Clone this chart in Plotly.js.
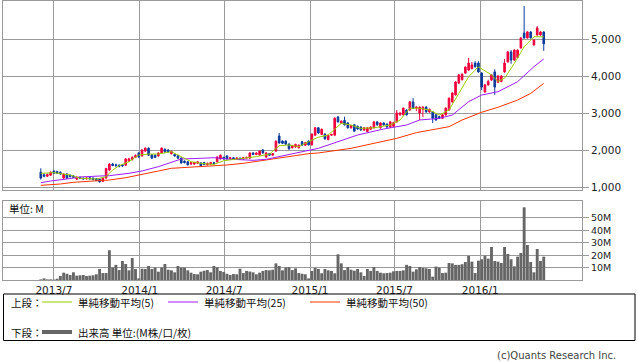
<!DOCTYPE html>
<html><head><meta charset="utf-8">
<script src="https://cdn.plot.ly/plotly-3.0.1.min.js"></script>
<style>html,body{margin:0;padding:0;background:#fff;}#chart{width:638px;height:362px;}</style>
</head><body><div id="chart"></div>
<script>
const weeks = [
'2013-06-03','2013-06-10','2013-06-17','2013-06-24','2013-07-01','2013-07-08','2013-07-15','2013-07-22','2013-07-29','2013-08-05',
'2013-08-12','2013-08-19','2013-08-26','2013-09-02','2013-09-09','2013-09-16','2013-09-23','2013-09-30','2013-10-07','2013-10-14',
'2013-10-21','2013-10-28','2013-11-04','2013-11-11','2013-11-18','2013-11-25','2013-12-02','2013-12-09','2013-12-16','2013-12-23',
'2013-12-30','2014-01-06','2014-01-13','2014-01-20','2014-01-27','2014-02-03','2014-02-10','2014-02-17','2014-02-24','2014-03-03',
'2014-03-10','2014-03-17','2014-03-24','2014-03-31','2014-04-07','2014-04-14','2014-04-21','2014-04-28','2014-05-05','2014-05-12',
'2014-05-19','2014-05-26','2014-06-02','2014-06-09','2014-06-16','2014-06-23','2014-06-30','2014-07-07','2014-07-14','2014-07-21',
'2014-07-28','2014-08-04','2014-08-11','2014-08-18','2014-08-25','2014-09-01','2014-09-08','2014-09-15','2014-09-22','2014-09-29',
'2014-10-06','2014-10-13','2014-10-20','2014-10-27','2014-11-03','2014-11-10','2014-11-17','2014-11-24','2014-12-01','2014-12-08',
'2014-12-15','2014-12-22','2014-12-29','2015-01-05','2015-01-12','2015-01-19','2015-01-26','2015-02-02','2015-02-09','2015-02-16',
'2015-02-23','2015-03-02','2015-03-09','2015-03-16','2015-03-23','2015-03-30','2015-04-06','2015-04-13','2015-04-20','2015-04-27',
'2015-05-04','2015-05-11','2015-05-18','2015-05-25','2015-06-01','2015-06-08','2015-06-15','2015-06-22','2015-06-29','2015-07-06',
'2015-07-13','2015-07-20','2015-07-27','2015-08-03','2015-08-10','2015-08-17','2015-08-24','2015-08-31','2015-09-07','2015-09-14',
'2015-09-21','2015-09-28','2015-10-05','2015-10-12','2015-10-19','2015-10-26','2015-11-02','2015-11-09','2015-11-16','2015-11-23',
'2015-11-30','2015-12-07','2015-12-14','2015-12-21','2015-12-28','2016-01-04','2016-01-11','2016-01-18','2016-01-25','2016-02-01',
'2016-02-08','2016-02-15','2016-02-22','2016-02-29','2016-03-07','2016-03-14','2016-03-21','2016-03-28','2016-04-04','2016-04-11',
'2016-04-18','2016-04-25','2016-05-02','2016-05-09','2016-05-16'];

const open = [1400,1330,1290,1320,1430,1420,1400,1240,1350,1320,1300,1210,1260,1240,1220,1250,1240,1220,1210,1150,
1240,1460,1620,1600,1590,1600,1590,1700,1740,1800,1920,1840,1970,2050,1865,1860,1840,1920,2020,2000,
1900,1880,1850,1780,1700,1680,1620,1620,1640,1650,1660,1600,1620,1660,1680,1760,1800,1840,1760,1790,
1760,1780,1760,1780,1780,1920,1880,1865,2000,1810,1900,1860,1970,2380,2240,2240,2160,2060,2080,2060,
2220,2130,2240,2140,2400,2600,2420,2430,2280,2400,2400,2890,2730,2800,2730,2600,2680,2640,2620,2540,
2500,2560,2600,2760,2600,2730,2700,2620,2640,2760,2950,2950,3080,3080,3300,3130,3000,3100,3160,3030,
3030,2950,2900,2860,2950,3080,3300,3490,3810,3900,4080,4160,4200,4350,4350,4080,3570,3760,3890,4110,
3830,3850,4110,4380,4650,4430,4500,4760,5160,5030,5190,4840,5110,5110,5190];
const high = [1505,1370,1360,1420,1450,1440,1420,1370,1370,1340,1320,1290,1290,1260,1260,1270,1260,1240,1230,1260,
1520,1640,1650,1630,1610,1620,1780,1790,1830,1880,1950,2020,2070,2070,1890,1880,1940,2070,2040,2020,
1980,1900,1870,1800,1720,1700,1680,1680,1700,1670,1680,1660,1680,1680,1830,1880,1820,1860,1810,1810,
1800,1800,1810,1820,1940,1940,1940,1990,2020,1940,1920,1920,2260,2460,2260,2260,2180,2140,2170,2150,
2240,2220,2260,2450,2620,2620,2580,2450,2420,2440,2880,2920,2800,2900,2750,2680,2700,2660,2640,2620,
2620,2640,2780,2780,2750,2750,2720,2780,2760,3080,3020,3150,3100,3320,3400,3180,3180,3180,3180,3120,
3050,2970,2920,2970,3150,3420,3560,3860,4050,4070,4260,4490,4380,4400,4400,4100,3780,3900,4050,4180,
4020,4020,4460,4670,4700,4720,4720,5050,5890,5210,5210,4990,5350,5210,5210];
const low = [1200,1260,1270,1300,1350,1350,1330,1220,1220,1260,1240,1190,1210,1200,1200,1200,1180,1160,1120,1140,
1230,1440,1560,1540,1530,1550,1570,1680,1720,1780,1790,1820,1950,1840,1760,1780,1820,1900,1930,1930,
1880,1820,1760,1630,1640,1580,1600,1600,1620,1550,1590,1580,1600,1610,1660,1740,1740,1740,1740,1740,
1740,1730,1740,1760,1760,1860,1860,1850,1900,1790,1840,1840,1950,2170,2160,2140,2010,2040,2060,2040,
2110,2110,2120,2120,2380,2440,2400,2280,2260,2380,2390,2740,2710,2660,2580,2580,2490,2550,2520,2520,
2480,2540,2580,2660,2580,2660,2600,2600,2620,2740,2930,2930,2930,3060,3110,3050,2810,2890,3010,3010,
2730,2790,2840,2840,2930,3060,3280,3470,3790,3880,4060,4140,4180,4230,4090,3620,3550,3740,3870,3490,
3810,3830,4090,4360,4330,4410,4480,4740,5010,5010,5010,4820,5090,5090,4680];
const close = [1240,1290,1340,1400,1370,1370,1350,1350,1240,1280,1260,1270,1230,1220,1240,1220,1200,1180,1140,1240,
1500,1620,1580,1580,1560,1570,1760,1760,1800,1850,1810,2000,2050,1860,1780,1800,1920,2050,1950,1950,
1960,1840,1780,1650,1660,1600,1660,1660,1680,1570,1610,1640,1660,1630,1810,1860,1760,1760,1790,1760,
1780,1750,1790,1800,1920,1880,1920,1970,1920,1920,1860,1900,2240,2190,2180,2160,2030,2120,2150,2130,
2130,2200,2140,2430,2600,2460,2560,2300,2400,2420,2860,2760,2780,2680,2600,2660,2510,2570,2540,2600,
2600,2620,2760,2680,2730,2680,2620,2760,2740,3000,3000,3130,2950,3300,3130,3160,3160,3160,3030,3100,
2860,2810,2860,2950,3130,3400,3540,3840,4030,4050,4240,4350,4300,4250,4110,3700,3760,3850,4030,3700,
4000,4000,4350,4650,4430,4700,4700,5030,5030,5190,5030,4970,5300,5190,4870];

const volumeM = [0.5,1.3,0.5,0.5,0.3,1.0,3.2,5.9,5.0,4.0,6.2,3.5,3.8,4.0,3.2,3.5,
3.8,4.6,8.9,5.6,5.6,24,10,12.2,8,15.3,12.9,7.8,17.7,8.9,1.3,9.1,8.9,11.3,8.9,10,6.7,10,12.9,8.3,7.8,6.2,11.3,10,10,7.8,5.9,4.8,4.6,6.7,7.5,8,6.2,11.3,10.2,7.3,6.5,5,4,4.8,4.6,9.1,5.6,7.3,
6.8,
6.2,4.6,5.9,7.3,8,7.8,8.3,13.4,11.3,7.8,10,10.5,8,9.4,5.6,5,4.6,1.3,7.3,9.7,8.9,
5.4,8.9,7.8,7.3,5.4,20.7,13.4,8,10.5,8.3,7.5,8.9,6.2,3.2,8.9,7.3,10.5,7.3,5.9,5.4,5.6,5.9,7,7.3,7.3,7.8,12.2,11.3,6.7,
8.6,
10.5,9.7,9.4,8.9,2.7,10.8,10,5.6,5.9,13.7,13.4,12.2,12.2,12.7,14.5,19.4,14.8,5.6,15.6,16.7,19.6,17.2,26.6,15.3,14.8,13.7,26.6,21,16.7,11,18.8,21.8,58.6,28.2,14.5,6.2,25,15.3,18.8];

const ma5Idx = [0,4,9,12,17,20,22,24,27,30,33,36,40,43,46,49,53,56,61,66,70,73,76,79,82,85,88,92,95,98,102,107,110,113,116,119,122,125,128,131,134,138,140,142,145,148,151,154];
const ma5Val = [1370,1387,1325,1235,1215,1280,1460,1575,1685,1865,1890,1890,1955,1820,1685,1640,1610,1710,1755,1820,1890,2115,2135,2090,2225,2345,2405,2720,2675,2585,2600,2675,2810,3130,3130,3080,2945,3080,3530,3980,4250,4030,3850,3940,4340,4790,5060,5060];
const ma25Idx = [0,3,8,12,18,21,27,31,36,40,43,49,53,57,61,65,69,74,79,85,91,97,105,112,116,122,126,131,135,140,146,151,154];
const ma25Val = [1116,1162,1216,1270,1297,1306,1370,1432,1549,1667,1757,1775,1792,1757,1730,1721,1748,1838,1927,2045,2225,2405,2568,2675,2811,2856,2946,3306,3486,3576,3846,4252,4460];
const ma50Idx = [0,6,10,18,21,26,31,36,40,45,51,57,62,69,75,82,85,95,109,115,125,129,135,140,146,150,154];
const ma50Val = [1046,1081,1127,1162,1189,1251,1351,1432,1505,1532,1549,1595,1640,1730,1819,1900,1920,2045,2315,2470,2630,2811,3020,3155,3350,3530,3800];

const xTickVals = ['2013-07-01','2014-01-01','2014-07-01','2015-01-01','2015-07-01','2016-01-01'];
const xTickText = ['2013/7','2014/1','2014/7','2015/1','2015/7','2016/1'];
const priceTicks = [1000,2000,3000,4000,5000];
const volTicks = [10,20,30,40,50];
const volTickText = ['10M','20M','30M','40M','50M'];

const pick = idx => idx.map(i => weeks[i]);
const GRID = '#9a9a9a';
const RED = '#f0003c', BLUE = '#0a3a9a';

const traces = [
  {type:'candlestick', x:weeks, open:open, high:high, low:low, close:close, xaxis:'x', yaxis:'y',
   increasing:{line:{color:RED,width:1}, fillcolor:RED},
   decreasing:{line:{color:BLUE,width:1}, fillcolor:BLUE},
   whiskerwidth:0, hoverinfo:'skip'},
  {type:'scatter', mode:'lines', x:pick(ma50Idx), y:ma50Val, line:{color:'#ff3300',width:1}, xaxis:'x', yaxis:'y', hoverinfo:'skip'},
  {type:'scatter', mode:'lines', x:pick(ma25Idx), y:ma25Val, line:{color:'#9d1cff',width:1}, xaxis:'x', yaxis:'y', hoverinfo:'skip'},
  {type:'scatter', mode:'lines', x:pick(ma5Idx), y:ma5Val, line:{color:'#99cc00',width:1}, xaxis:'x', yaxis:'y', hoverinfo:'skip'},
  {type:'bar', x:weeks, y:volumeM, marker:{color:'#666666', line:{width:0}}, xaxis:'x2', yaxis:'y2', hoverinfo:'skip'}
];

const PW = 579, PH = 279;
const px = v => (v - 3) / PW;
const py = v => (280 - v) / PH;
const CJK = 'Noto Sans CJK JP';
const LF = {family:CJK, size:10.5, color:'#111'};

const layout = {
  width:638, height:362,
  margin:{l:3, r:56, t:1, b:82},
  paper_bgcolor:'#ffffff', plot_bgcolor:'#ffffff',
  showlegend:false, bargap:0.12,
  font:{family:'DejaVu Sans', size:10, color:'#222'},
  xaxis:{type:'date', range:['2013-03-14','2016-08-06'], anchor:'y', tickvals:xTickVals, showticklabels:false,
    showgrid:true, gridcolor:GRID, gridwidth:1, showline:true, mirror:true, linecolor:GRID, ticks:'',
    rangeslider:{visible:false}, fixedrange:true},
  xaxis2:{type:'date', range:['2013-03-14','2016-08-06'], matches:'x', anchor:'y2', tickvals:xTickVals, ticktext:xTickText,
    showgrid:true, gridcolor:GRID, gridwidth:1, showline:true, mirror:true, linecolor:GRID, ticks:'',
    tickfont:{family:'DejaVu Sans', size:10.5, color:'#222'}},
  yaxis:{domain:[0.3226,1], range:[919,6027], side:'right', tickvals:priceTicks, tickformat:',d',
    ticks:'outside', ticklen:6, tickcolor:GRID, showgrid:true, gridcolor:GRID, showline:true, mirror:true,
    linecolor:GRID, zeroline:false, tickfont:{family:'DejaVu Sans', size:10.5, color:'#222'}},
  yaxis2:{domain:[0,0.2832], range:[0,63.7], side:'right', tickmode:'array', tickvals:volTicks, ticktext:volTickText,
    ticks:'outside', ticklen:6, tickcolor:GRID, showgrid:true, gridcolor:GRID, showline:true, mirror:true,
    linecolor:GRID, zeroline:false, tickfont:{family:'DejaVu Sans', size:9.5, color:'#222'}},
  shapes:[
    {type:'rect', xref:'paper', yref:'paper', x0:px(3.5), x1:px(635), y0:py(340.5), y1:py(294), line:{color:'#000',width:1}},
    {type:'line', xref:'paper', yref:'paper', x0:px(42), x1:px(72), y0:py(302), y1:py(302), line:{color:'#99cc00',width:1}},
    {type:'line', xref:'paper', yref:'paper', x0:px(168), x1:px(198), y0:py(302), y1:py(302), line:{color:'#9d1cff',width:1}},
    {type:'line', xref:'paper', yref:'paper', x0:px(310), x1:px(340), y0:py(302), y1:py(302), line:{color:'#ff3300',width:1}},
    {type:'line', xref:'paper', yref:'paper', x0:px(42), x1:px(72), y0:py(332), y1:py(332), line:{color:'#666666',width:4}}
  ],
  annotations:[
    {xref:'paper', yref:'paper', x:px(7), y:py(208), xanchor:'left', yanchor:'middle', showarrow:false, text:'単位: M', font:LF},
    {xref:'paper', yref:'paper', x:px(9), y:py(302), xanchor:'left', yanchor:'middle', showarrow:false, text:'上段：', font:LF},
    {xref:'paper', yref:'paper', x:px(76), y:py(302), xanchor:'left', yanchor:'middle', showarrow:false, text:'単純移動平均(5)', font:LF},
    {xref:'paper', yref:'paper', x:px(202), y:py(302), xanchor:'left', yanchor:'middle', showarrow:false, text:'単純移動平均(25)', font:LF},
    {xref:'paper', yref:'paper', x:px(344), y:py(302), xanchor:'left', yanchor:'middle', showarrow:false, text:'単純移動平均(50)', font:LF},
    {xref:'paper', yref:'paper', x:px(9), y:py(332), xanchor:'left', yanchor:'middle', showarrow:false, text:'下段：', font:LF},
    {xref:'paper', yref:'paper', x:px(76), y:py(332), xanchor:'left', yanchor:'middle', showarrow:false, text:'出来高 単位:(M株/口/枚)', font:LF},
    {xref:'paper', yref:'paper', x:px(618), y:py(355), xanchor:'right', yanchor:'middle', showarrow:false, text:'(c)Quants Research Inc.', font:{family:'DejaVu Sans', size:10, color:'#444'}}
  ]
};

Plotly.newPlot('chart', traces, layout, {staticPlot:true, displayModeBar:false});
</script>
</body></html>
